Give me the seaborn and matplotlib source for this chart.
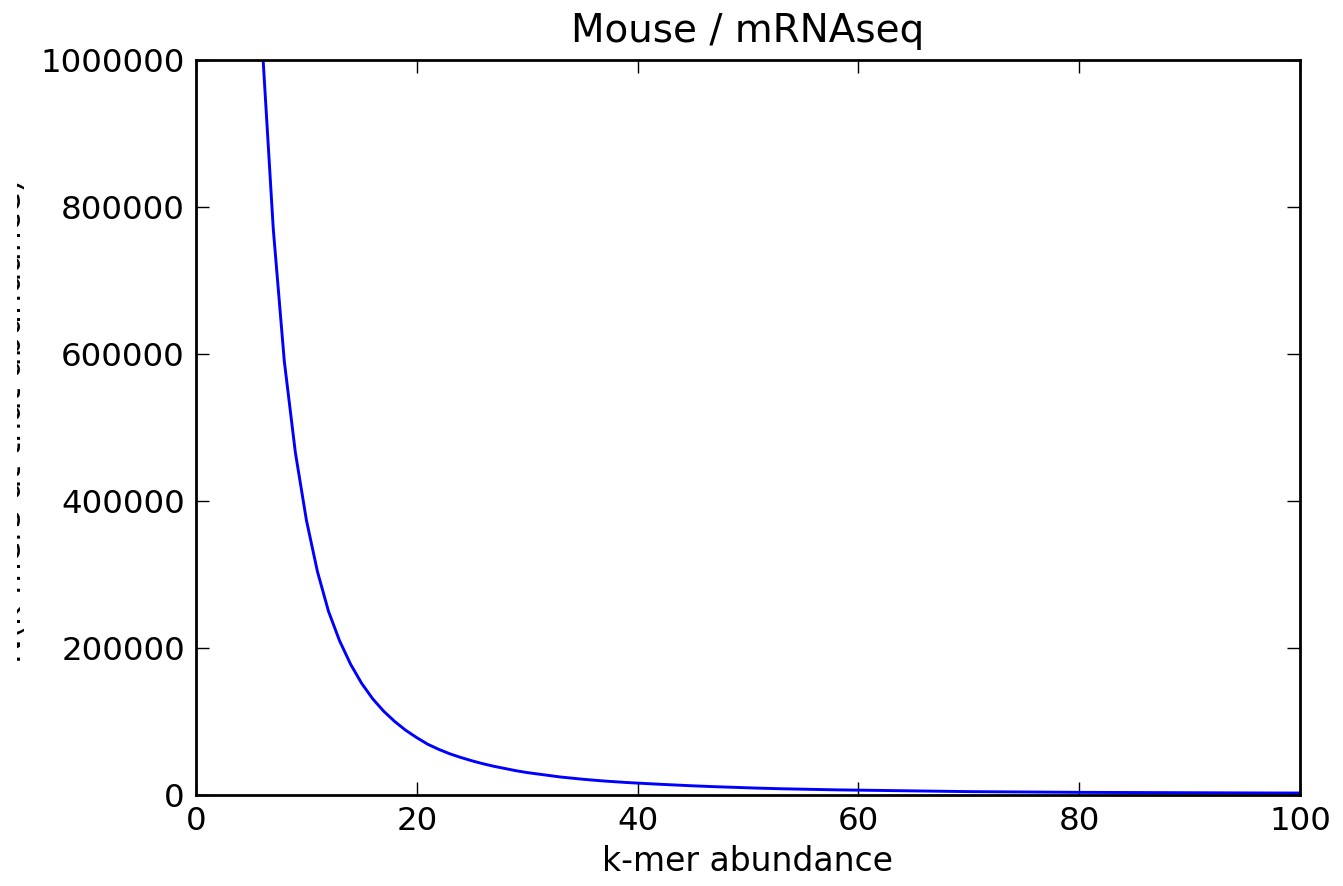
import matplotlib
matplotlib.use("Agg")
import matplotlib.pyplot as plt
import seaborn as sns
import pandas as pd
from matplotlib.ticker import FixedLocator, FuncFormatter
from matplotlib.transforms import Bbox, TransformedBbox

title = "Mouse / mRNAseq"
x_label = "k-mer abundance"
y_label = "N(k-mers at that abundance)"

abundance = list(range(6, 101))
counts = [
    1020000, 770000, 590000, 466000, 374000, 304000, 250000, 210000, 178000, 152000,
    131000, 114000, 100000, 88000, 78000, 69000, 62000, 56000, 51000, 46500,
    42500, 39000, 36000, 33000, 30500, 28500, 26500, 24500, 23000, 21500,
    20200, 19000, 18000, 17000, 16200, 15400, 14600, 13900, 13200, 12500,
    11900, 11300, 10800, 10300, 9800, 9300, 8900, 8500, 8200, 7900,
    7600, 7300, 7000, 6800, 6600, 6400, 6200, 6000, 5800, 5600,
    5400, 5200, 5000, 4800, 4600, 4500, 4400, 4300, 4200, 4100,
    4000, 3900, 3800, 3700, 3600, 3550, 3500, 3450, 3400, 3350,
    3300, 3250, 3200, 3150, 3100, 3050, 3000, 2950, 2900, 2850,
    2800, 2750, 2720, 2700, 2680,
]
x_ticks = [0, 20, 40, 60, 80, 100]
y_ticks = [0, 200000, 400000, 600000, 800000, 1000000]

sns.set_style("ticks")
plt.rcParams["font.family"] = ["DejaVu Sans"]
plt.rcParams["text.color"] = "black"
plt.rcParams["axes.labelcolor"] = "black"

df = pd.DataFrame({"abundance": abundance, "count": counts})

fig = plt.figure(figsize=(13.43, 8.86), dpi=100)
ax = fig.add_axes([196 / 1343, 1 - 795 / 886, (1300 - 196) / 1343, (795 - 60) / 886])

sns.lineplot(data=df, x="abundance", y="count", ax=ax, color="#0000ff", linewidth=2.1)

ax.set_xlim(0, 100)
ax.set_ylim(0, 1000000)
ax.xaxis.set_major_locator(FixedLocator(x_ticks))
ax.yaxis.set_major_locator(FixedLocator(y_ticks))
ax.yaxis.set_major_formatter(FuncFormatter(lambda v, p: f"{int(v)}"))
ax.xaxis.set_major_formatter(FuncFormatter(lambda v, p: f"{int(v)}"))

for s in ax.spines.values():
    s.set_visible(True)
    s.set_linewidth(2)
    s.set_color("black")

ax.tick_params(which="major", direction="in", length=9.5, width=1, color="black",
               top=True, right=True, labelsize=23.3, pad=8, labelcolor="black")

ax.set_title(title, fontsize=28, pad=13, color="black")
ax.set_xlabel(x_label, fontsize=23.8, labelpad=6, color="black")
ylab = ax.set_ylabel(y_label, fontsize=24, color="black")
ax.yaxis.set_label_coords((28.5 - 196) / 1104, 0.51)
clip = TransformedBbox(Bbox.from_extents(17 / 1343, 0, 1, 1), fig.transFigure)
ylab.set_clip_box(clip)
ylab.set_clip_on(True)

fig.savefig("out.png", dpi=100)
